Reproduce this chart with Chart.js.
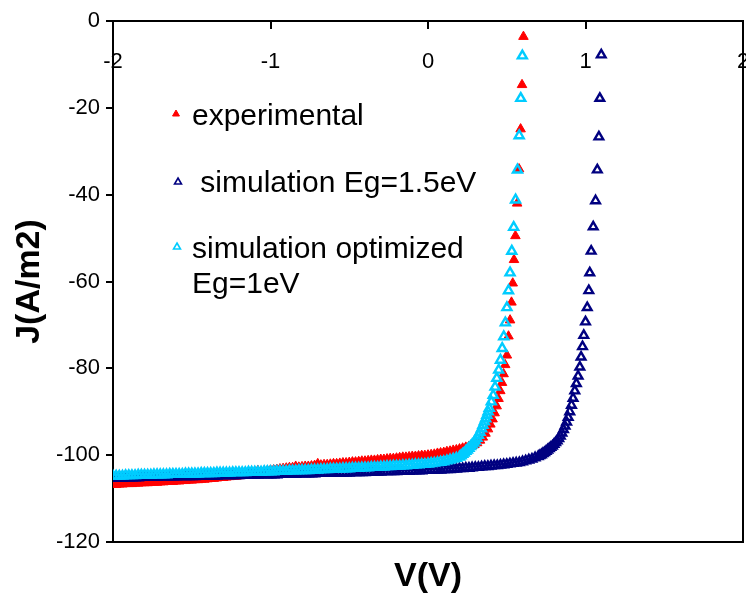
<!DOCTYPE html>
<html>
<head>
<meta charset="utf-8">
<title>J-V curves</title>
<script src="https://cdn.jsdelivr.net/npm/chart.js@4.4.1/dist/chart.umd.min.js"></script>
<style>
  html, body { margin: 0; padding: 0; background: #fff; }
  #jv { display: block; }
</style>
</head>
<body>
<canvas id="jv" width="746" height="594"></canvas>
<script>
/* ── data: V in volts, J in A/m2 ──────────────────────────────── */
const xTicks = [-2, -1, 0, 1, 2];
const yTicks = [-120, -100, -80, -60, -40, -20, 0];

const legendLabels = ["experimental", " simulation Eg=1.5eV", "simulation optimized", "Eg=1eV"];

// voltage grid of the dense, flat part (-2.00 ... 0.68 every 0.02 V)
const gridV = [
    -2.00,-1.98,-1.96,-1.94,-1.92,-1.90,-1.88,-1.86,-1.84,-1.82,
    -1.80,-1.78,-1.76,-1.74,-1.72,-1.70,-1.68,-1.66,-1.64,-1.62,
    -1.60,-1.58,-1.56,-1.54,-1.52,-1.50,-1.48,-1.46,-1.44,-1.42,
    -1.40,-1.38,-1.36,-1.34,-1.32,-1.30,-1.28,-1.26,-1.24,-1.22,
    -1.20,-1.18,-1.16,-1.14,-1.12,-1.10,-1.08,-1.06,-1.04,-1.02,
    -1.00,-0.98,-0.96,-0.94,-0.92,-0.90,-0.88,-0.86,-0.84,-0.82,
    -0.80,-0.78,-0.76,-0.74,-0.72,-0.70,-0.68,-0.66,-0.64,-0.62,
    -0.60,-0.58,-0.56,-0.54,-0.52,-0.50,-0.48,-0.46,-0.44,-0.42,
    -0.40,-0.38,-0.36,-0.34,-0.32,-0.30,-0.28,-0.26,-0.24,-0.22,
    -0.20,-0.18,-0.16,-0.14,-0.12,-0.10,-0.08,-0.06,-0.04,-0.02,
     0.00, 0.02, 0.04, 0.06, 0.08, 0.10, 0.12, 0.14, 0.16, 0.18,
     0.20, 0.22, 0.24, 0.26, 0.28, 0.30, 0.32, 0.34, 0.36, 0.38,
     0.40, 0.42, 0.44, 0.46, 0.48, 0.50, 0.52, 0.54, 0.56, 0.58,
     0.60, 0.62, 0.64, 0.66, 0.68
];

// experimental (red, filled): flat part on gridV, then the rising part
const expFlatJ = [
    -106.8,-106.8,-106.7,-106.7,-106.6,-106.6,-106.6,-106.5,-106.5,-106.4,
    -106.4,-106.4,-106.3,-106.3,-106.3,-106.2,-106.2,-106.1,-106.1,-106.1,
    -106.0,-106.0,-105.9,-105.9,-105.8,-105.8,-105.7,-105.7,-105.6,-105.6,
    -105.5,-105.4,-105.4,-105.3,-105.2,-105.2,-105.1,-105.0,-104.9,-104.9,
    -104.8,-104.7,-104.6,-104.4,-104.3,-104.1,-103.6,-103.9,-103.7,-103.6,
    -103.5,-103.4,-103.3,-103.2,-103.1,-103.0,-102.9,-102.9,-102.6,-102.8,
    -102.7,-102.6,-102.6,-102.5,-102.4,-102.0,-102.3,-102.2,-102.2,-102.1,
    -102.0,-102.0,-101.9,-101.8,-101.8,-101.7,-101.6,-101.6,-101.5,-101.4,
    -101.4,-101.3,-101.2,-101.2,-101.1,-101.0,-101.0,-100.9,-100.8,-100.8,
    -100.7,-100.6,-100.5,-100.5,-100.4,-100.3,-100.3,-100.2,-100.1,-100.1,
    -100.0, -99.9, -99.8, -99.6, -99.5, -99.4, -99.2, -99.1, -98.9, -98.8,
     -98.6, -98.4, -98.2, -98.0, -97.8
];
const expRiseV = [0.295, 0.312, 0.330, 0.348, 0.365, 0.381, 0.396, 0.410, 0.423, 0.436,
                  0.448, 0.459, 0.470, 0.480, 0.490, 0.501, 0.511, 0.521, 0.530, 0.538,
                  0.546, 0.555, 0.566, 0.578, 0.588, 0.597, 0.606];
const expRiseJ = [-97.6, -97.2, -96.6, -95.9, -95.0, -94.0, -92.9, -91.7, -90.3, -88.7,
                  -87.0, -85.2, -83.3, -81.3, -79.2, -77.0, -72.6, -68.9, -64.8, -60.4,
                  -55.0, -49.5, -42.0, -34.1, -24.9, -14.7,  -3.6];

// simulation Eg=1.5eV (navy, open)
const sim15FlatJ = [
    -105.3,-105.3,-105.3,-105.3,-105.2,-105.2,-105.2,-105.2,-105.2,-105.1,
    -105.1,-105.1,-105.1,-105.1,-105.1,-105.0,-105.0,-105.0,-105.0,-105.0,
    -105.0,-104.9,-104.9,-104.9,-104.9,-104.9,-104.9,-104.8,-104.8,-104.8,
    -104.8,-104.8,-104.8,-104.8,-104.7,-104.7,-104.7,-104.7,-104.7,-104.7,
    -104.7,-104.6,-104.6,-104.6,-104.6,-104.6,-104.6,-104.5,-104.5,-104.5,
    -104.5,-104.5,-104.5,-104.4,-104.4,-104.4,-104.4,-104.4,-104.4,-104.3,
    -104.3,-104.3,-104.3,-104.3,-104.3,-104.2,-104.2,-104.2,-104.2,-104.2,
    -104.2,-104.1,-104.1,-104.1,-104.1,-104.1,-104.0,-104.0,-104.0,-104.0,
    -104.0,-103.9,-103.9,-103.9,-103.9,-103.9,-103.8,-103.8,-103.8,-103.8,
    -103.8,-103.7,-103.7,-103.7,-103.7,-103.6,-103.6,-103.6,-103.6,-103.5,
    -103.5,-103.5,-103.4,-103.4,-103.4,-103.3,-103.3,-103.3,-103.2,-103.2,
    -103.1,-103.1,-103.0,-103.0,-102.9,-102.8,-102.8,-102.7,-102.6,-102.6,
    -102.5,-102.4,-102.4,-102.3,-102.2,-102.1,-102.0,-101.9,-101.8,-101.7,
    -101.5,-101.3,-101.1,-100.9,-100.6
];
const sim15RiseV = [0.70, 0.71, 0.72, 0.73, 0.74, 0.75, 0.76, 0.77, 0.78, 0.79,
                    0.80, 0.81, 0.82, 0.83, 0.84, 0.85, 0.86, 0.87, 0.88, 0.89,
                    0.900, 0.911, 0.921, 0.932, 0.942, 0.953, 0.964, 0.972, 0.981, 0.989,
                    1.000, 1.011, 1.021, 1.027, 1.036, 1.049, 1.064, 1.075, 1.085, 1.091,
                    1.100];
const sim15RiseJ = [-100.3, -100.1, -99.9, -99.6, -99.4, -99.1, -98.8, -98.5, -98.2, -97.9,
                     -97.5,  -97.1, -96.7, -96.2, -95.6, -94.9, -94.1, -93.3, -92.4, -91.3,
                     -90.0,  -88.5, -86.9, -85.2, -83.5, -81.8, -79.7, -77.4, -75.0, -72.4,
                     -69.3,  -66.0, -62.1, -58.0, -53.0, -47.4, -41.4, -34.3, -26.7, -17.8,
                      -7.8];

// simulation optimized Eg=1eV (light blue, open)
const simOptFlatJ = [
    -104.8,-104.8,-104.8,-104.8,-104.7,-104.7,-104.7,-104.7,-104.6,-104.6,
    -104.6,-104.6,-104.6,-104.5,-104.5,-104.5,-104.5,-104.5,-104.4,-104.4,
    -104.4,-104.4,-104.4,-104.3,-104.3,-104.3,-104.3,-104.3,-104.2,-104.2,
    -104.2,-104.2,-104.2,-104.1,-104.1,-104.1,-104.1,-104.1,-104.0,-104.0,
    -104.0,-104.0,-104.0,-103.9,-103.9,-103.9,-103.9,-103.9,-103.8,-103.8,
    -103.8,-103.8,-103.7,-103.7,-103.7,-103.7,-103.6,-103.6,-103.6,-103.5,
    -103.5,-103.5,-103.5,-103.4,-103.4,-103.4,-103.3,-103.3,-103.3,-103.2,
    -103.2,-103.2,-103.2,-103.1,-103.1,-103.1,-103.0,-103.0,-103.0,-102.9,
    -102.9,-102.9,-102.8,-102.8,-102.8,-102.7,-102.7,-102.6,-102.6,-102.5,
    -102.5,-102.5,-102.4,-102.4,-102.3,-102.3,-102.2,-102.2,-102.1,-102.1,
    -102.0,-101.9,-101.8,-101.7,-101.6,-101.5,-101.3,-101.1,-100.9,-100.7,
    -100.4
];
const simOptRiseV = [0.21, 0.22, 0.23, 0.24, 0.25, 0.26, 0.27, 0.28, 0.29, 0.30,
                     0.31, 0.32, 0.33, 0.340, 0.349, 0.358, 0.366, 0.374, 0.382, 0.389,
                     0.402, 0.414, 0.426, 0.437, 0.449, 0.460, 0.471, 0.481, 0.491, 0.501,
                     0.511, 0.521, 0.532, 0.544, 0.556, 0.568, 0.579, 0.589, 0.599];
const simOptRiseJ = [-100.1, -99.8, -99.5, -99.1, -98.8, -98.4, -98.0, -97.6, -97.2, -96.7,
                      -96.1, -95.4, -94.7, -93.9, -93.1, -92.3, -91.6, -90.8, -90.0, -89.2,
                      -87.7, -86.2, -84.3, -82.3, -80.4, -78.1, -75.4, -72.7, -69.5, -66.0,
                      -62.1, -58.0, -53.0, -47.5, -41.2, -34.3, -26.4, -17.8,  -8.0];

/* ── helpers ─────────────────────────────────────────────────── */
function toPoints(flatJ, riseV, riseJ) {
    const pts = [];
    flatJ.forEach((j, i) => pts.push({ x: gridV[i], y: j }));
    riseV.forEach((v, i) => pts.push({ x: v, y: riseJ[i] }));
    return pts;
}

const FONT = '"Liberation Sans", Arial, Helvetica, sans-serif';
Chart.defaults.font.family = FONT;
Chart.defaults.color = "#000";

/* ── legend drawn inside the plot, like the Excel original ───── */
const insideLegend = {
    id: "insideLegend",
    afterDraw(chart) {
        const ctx = chart.ctx;
        const rows = [
            { text: legendLabels[0], mx: 176, my: 114, ty: 125, fill: "#FF0000", stroke: "#FF0000", bw: 1 },
            { text: legendLabels[1], mx: 178, my: 182, ty: 192, fill: "#FFFFFF", stroke: "#000080", bw: 1.6 },
            { text: legendLabels[2], mx: 177, my: 247, ty: 258, fill: "#FFFFFF", stroke: "#00CCFF", bw: 1.6 },
            { text: legendLabels[3], mx: null, my: null, ty: 293 }
        ];
        ctx.save();
        rows.forEach(r => {
            if (r.mx !== null) {
                ctx.fillStyle = r.fill;
                ctx.strokeStyle = r.stroke;
                ctx.lineWidth = r.bw;
                Chart.helpers.drawPoint(ctx, { pointStyle: "triangle", radius: 4, rotation: 0, borderWidth: r.bw }, r.mx, r.my);
            }
            ctx.fillStyle = "#000";
            ctx.font = "30px " + FONT;
            ctx.textAlign = "left";
            ctx.textBaseline = "alphabetic";
            ctx.fillText(r.text, 192, r.ty);
        });
        ctx.restore();
    }
};

/* ── chart ───────────────────────────────────────────────────── */
new Chart(document.getElementById("jv"), {
    type: "scatter",
    data: {
        datasets: [
            {
                label: "simulation optimized Eg=1eV",
                data: toPoints(simOptFlatJ, simOptRiseV, simOptRiseJ),
                pointStyle: "triangle",
                pointRadius: 5.2,
                borderWidth: 2.4,
                borderColor: "#00CCFF",
                backgroundColor: "rgba(0,0,0,0)",
                order: 1,
                xAxisID: "x",
                yAxisID: "y"
            },
            {
                label: "simulation Eg=1.5eV",
                data: toPoints(sim15FlatJ, sim15RiseV, sim15RiseJ),
                pointStyle: "triangle",
                pointRadius: 5,
                borderWidth: 2.4,
                borderColor: "#000080",
                backgroundColor: "rgba(0,0,0,0)",
                order: 2,
                xAxisID: "x",
                yAxisID: "y"
            },
            {
                label: "experimental",
                data: toPoints(expFlatJ, expRiseV, expRiseJ),
                pointStyle: "triangle",
                pointRadius: 5.5,
                borderWidth: 1,
                borderColor: "#FF0000",
                backgroundColor: "#FF0000",
                order: 3,
                xAxisID: "x",
                yAxisID: "y"
            }
        ]
    },
    options: {
        responsive: false,
        animation: false,
        layout: { autoPadding: false, padding: { top: 21, left: 0, right: 0, bottom: 0 } },
        plugins: {
            legend: { display: false },
            tooltip: { enabled: false }
        },
        scales: {
            x: {
                type: "linear",
                position: { y: 0 },
                min: xTicks[0],
                max: xTicks[xTicks.length - 1],
                afterBuildTicks: s => { s.ticks = xTicks.map(v => ({ value: v })); },
                // labels sit inside the plot, so they must not shrink it
                afterFit: s => { s.paddingLeft = 0; s.paddingRight = 0; },
                ticks: { font: { size: 22 }, color: "#000", padding: 21 },
                grid: { drawOnChartArea: false, drawTicks: true, tickLength: 7, color: "#000", lineWidth: 2 },
                border: { display: true, color: "#000", width: 2 }
            },
            xb: {
                type: "linear",
                position: "bottom",
                min: xTicks[0],
                max: xTicks[xTicks.length - 1],
                afterFit: s => { s.height = 52; },
                ticks: { display: false },
                grid: { drawOnChartArea: false, drawTicks: false },
                border: { display: true, color: "#000", width: 2 },
                title: {
                    display: true,
                    text: "V(V)",
                    font: { size: 34, weight: "bold", lineHeight: 1 },
                    color: "#000",
                    padding: { top: 0, bottom: 0 }
                }
            },
            y: {
                type: "linear",
                position: "left",
                min: yTicks[0],
                max: yTicks[yTicks.length - 1],
                afterBuildTicks: s => { s.ticks = yTicks.map(v => ({ value: v })); },
                afterFit: s => { s.width = 113; },
                ticks: { font: { size: 22 }, color: "#000", padding: 6 },
                grid: { drawOnChartArea: false, drawTicks: true, tickLength: 7, color: "#000", lineWidth: 2 },
                border: { display: true, color: "#000", width: 2 },
                title: {
                    display: true,
                    text: "J(A/m2)",
                    font: { size: 34, weight: "bold", lineHeight: 1 },
                    color: "#000",
                    padding: { top: 13, bottom: 0 }
                }
            },
            yr: {
                type: "linear",
                position: "right",
                min: yTicks[0],
                max: yTicks[yTicks.length - 1],
                afterFit: s => { s.width = 3; },
                ticks: { display: false },
                grid: { drawOnChartArea: false, drawTicks: false },
                border: { display: true, color: "#000", width: 2 }
            }
        }
    },
    plugins: [insideLegend]
});
</script>
</body>
</html>
